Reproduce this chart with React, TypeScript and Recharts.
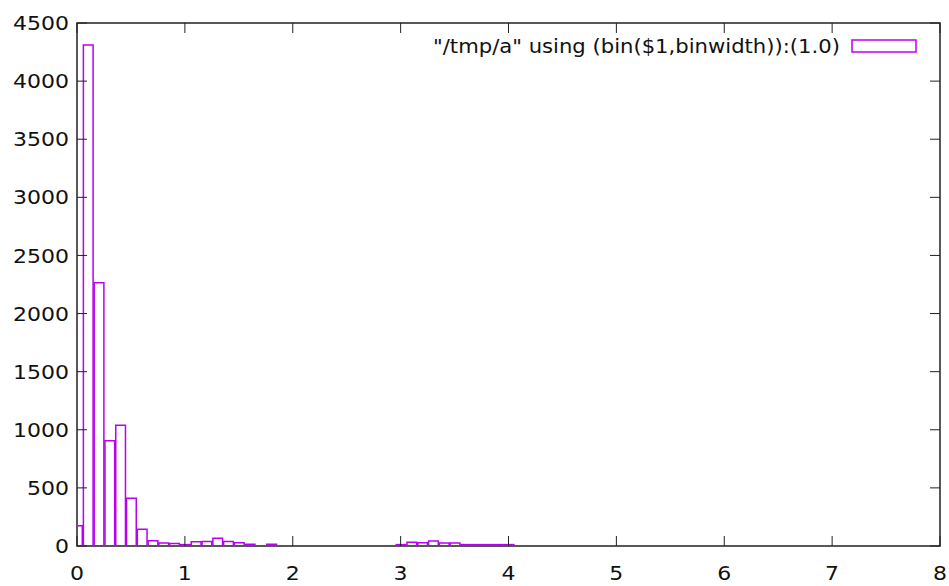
import React from 'react';
import { BarChart, Bar, XAxis, YAxis, Legend, ReferenceArea } from 'recharts';

// histogram bins (bin centres) and counts
const BINS = [
  0.0, 0.1, 0.2, 0.3, 0.4, 0.5, 0.6, 0.7, 0.8, 0.9,
  1.0, 1.1, 1.2, 1.3, 1.4, 1.5, 1.6, 1.7, 1.8, 1.9,
  2.0, 2.1, 2.2, 2.3, 2.4, 2.5, 2.6, 2.7, 2.8, 2.9,
  3.0, 3.1, 3.2, 3.3, 3.4, 3.5, 3.6, 3.7, 3.8, 3.9,
  4.0,
];
const COUNTS = [
  175, 4310, 2265, 905, 1040, 410, 145, 45, 25, 22,
  12, 37, 38, 66, 38, 28, 14, 0, 14, 0,
  0, 0, 0, 0, 0, 0, 0, 0, 0, 0,
  12, 32, 28, 44, 26, 26, 12, 12, 12, 12,
  12,
];
const X_TICKS = [0, 1, 2, 3, 4, 5, 6, 7, 8];
const Y_TICKS = [0, 500, 1000, 1500, 2000, 2500, 3000, 3500, 4000, 4500];
const BIN_WIDTH = 0.1;
const LEGEND_LABEL = '"/tmp/a" using (bin($1,binwidth)):(1.0)';

const W = 949;
const H = 586;
const LEFT = 77;
const RIGHT = 9;
const TOP = 23;
const BOTTOM = 40;
const TICK_LEN = 10;
const PURPLE = '#b800f5';
const FONT = '"DejaVu Sans", sans-serif';
const FRAME = '#222';
const STRETCH = 1.1; // the reference text is a bit wider than it is tall

const data = BINS.map((bin, i) => ({ bin, count: COUNTS[i] }));

const barSize = ((W - LEFT - RIGHT) / (X_TICKS[X_TICKS.length - 1] - X_TICKS[0])) * BIN_WIDTH;

const stretched = (x: number, y: number) =>
  `translate(${x} ${y}) scale(${STRETCH} 1) translate(${-x} ${-y})`;

// bottom tick label plus inward tick marks on the bottom and the mirrored top border
function BottomTick(props: any) {
  const { x, y, payload } = props;
  return (
    <g>
      <line x1={x} x2={x} y1={H - BOTTOM} y2={H - BOTTOM - TICK_LEN} stroke={FRAME} />
      <line x1={x} x2={x} y1={TOP} y2={TOP + TICK_LEN} stroke={FRAME} />
      <text
        x={x}
        y={y}
        dy="0.71em"
        textAnchor="middle"
        fill="#111"
        fontSize={20}
        fontFamily={FONT}
        transform={stretched(x, y)}
      >
        {payload.value}
      </text>
    </g>
  );
}

// left tick label plus inward tick marks on the left and the mirrored right border
function LeftTick(props: any) {
  const { x, y, payload } = props;
  return (
    <g>
      <line x1={LEFT} x2={LEFT + TICK_LEN} y1={y} y2={y} stroke={FRAME} />
      <line x1={W - RIGHT} x2={W - RIGHT - TICK_LEN} y1={y} y2={y} stroke={FRAME} />
      <text
        x={x}
        y={y}
        dy="0.355em"
        textAnchor="end"
        fill="#111"
        fontSize={20}
        fontFamily={FONT}
        transform={stretched(x, y)}
      >
        {payload.value}
      </text>
    </g>
  );
}

function KeyBox() {
  return (
    <div
      style={{
        display: 'flex',
        alignItems: 'center',
        fontFamily: FONT,
        fontSize: 20,
        color: '#111',
        whiteSpace: 'nowrap',
      }}
    >
      <span style={{ display: 'inline-block', width: 405 }}>
        <span style={{ display: 'inline-block', transform: 'scaleX(1.057)', transformOrigin: '0 50%' }}>
          {LEGEND_LABEL}
        </span>
      </span>
      <svg width={66} height={14} style={{ marginLeft: 13 }}>
        <rect x={1} y={1} width={64} height={12} fill="none" stroke={PURPLE} strokeWidth={1.5} />
      </svg>
    </div>
  );
}

export default function App() {
  return (
    <div style={{ position: 'absolute', left: 0, top: 0, width: W, height: H, background: '#fff' }}>
      <BarChart width={W} height={H} data={data} margin={{ top: TOP, right: RIGHT, left: 0, bottom: 0 }}>
        <XAxis
          xAxisId="b"
          dataKey="bin"
          type="number"
          domain={[0, 8]}
          ticks={X_TICKS}
          interval={0}
          allowDataOverflow
          height={BOTTOM}
          tickSize={0}
          tickMargin={20}
          tickLine={false}
          axisLine={false}
          tick={<BottomTick />}
        />
        <YAxis
          yAxisId="l"
          type="number"
          domain={[0, 4500]}
          ticks={Y_TICKS}
          interval={0}
          allowDataOverflow
          width={LEFT}
          tickSize={0}
          tickMargin={8}
          tickLine={false}
          axisLine={false}
          tick={<LeftTick />}
        />
        <Legend
          layout="vertical"
          align="center"
          verticalAlign="middle"
          content={() => <KeyBox />}
          wrapperStyle={{ left: 433, top: 34, width: 'auto', height: 'auto' }}
        />
        <Bar
          xAxisId="b"
          yAxisId="l"
          dataKey="count"
          fill="none"
          stroke={PURPLE}
          strokeWidth={1.5}
          barSize={barSize}
          isAnimationActive={false}
        />
        <ReferenceArea
          xAxisId="b"
          yAxisId="l"
          x1={0}
          x2={8}
          y1={0}
          y2={4500}
          fill="none"
          fillOpacity={0}
          stroke={FRAME}
          strokeWidth={1.5}
          strokeOpacity={1}
        />
      </BarChart>
    </div>
  );
}
